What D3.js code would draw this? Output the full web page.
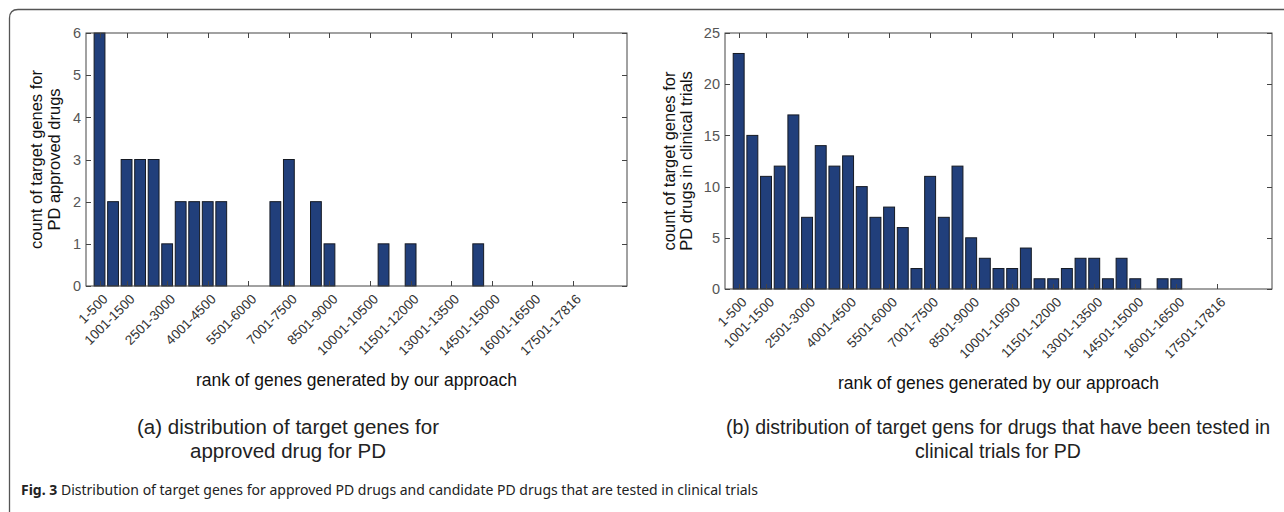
<!DOCTYPE html>
<html>
<head>
<meta charset="utf-8">
<script src="https://cdn.jsdelivr.net/npm/d3@7"></script>
<style>
  html, body { margin: 0; padding: 0; background: #fff; }
  svg { display: block; }
</style>
</head>
<body>
<svg id="chart" width="1284" height="512"></svg>
<script>
// ---- data ----
const bins = [
  "1-500","501-1000","1001-1500","1501-2000","2001-2500","2501-3000",
  "3001-3500","3501-4000","4001-4500","4501-5000","5001-5500","5501-6000",
  "6001-6500","6501-7000","7001-7500","7501-8000","8001-8500","8501-9000",
  "9001-9500","9501-10000","10001-10500","10501-11000","11001-11500","11501-12000",
  "12001-12500","12501-13000","13001-13500","13501-14000","14001-14500","14501-15000",
  "15001-15500","15501-16000","16001-16500","16501-17000","17001-17500","17501-17816"
];
const approvedCounts = [6,2,3,3,3,1,2,2,2,2,0,0,0,2,3,0,2,1,0,0,0,1,0,1,0,0,0,0,1,0,0,0,0,0,0,0];
const clinicalCounts = [23,15,11,12,17,7,14,12,13,10,7,8,6,2,11,7,12,5,3,2,2,4,1,1,2,3,3,1,3,1,0,1,1,0,0,0];
const tickBins = [1,3,6,9,12,15,18,21,24,27,30,33,36];
const tickLabels = ["1-500","1001-1500","2501-3000","4001-4500","5501-6000","7001-7500",
  "8501-9000","10001-10500","11501-12000","13001-13500","14501-15000","16001-16500","17501-17816"];
const yTicksA = [0,1,2,3,4,5,6];
const yTicksB = [0,5,10,15,20,25];
const xTitle = "rank of genes generated by our approach";
const yTitleA = ["count of target genes for", "PD approved drugs"];
const yTitleB = ["count of target genes for", "PD drugs in clinical trials"];
const captionA = ["(a) distribution of target genes for", "approved drug for PD"];
const captionB = ["(b) distribution of target gens for drugs that have been tested in", "clinical trials for PD"];
const figLabel = "Fig. 3";
const figText = " Distribution of target genes for approved PD drugs and candidate PD drugs that are tested in clinical trials";

const svg = d3.select("#chart");
const FONT = "'Liberation Sans', Arial, Helvetica, sans-serif";

// frame
svg.append("path")
  .attr("d", "M9.5,512 L9.5,18 Q9.5,9.5 18,9.5 L1284,9.5")
  .attr("fill", "none").attr("stroke", "#555").attr("stroke-width", 1.3);

function panel(cfg) {
  const g = svg.append("g");
  const x = d3.scaleLinear().domain([0, 40]).range([cfg.x0, cfg.x1]);
  const y = d3.scaleLinear().domain([0, cfg.ymax]).range([cfg.y1, cfg.y0]);
  const bw = (x(1) - x(0)) * 0.8;

  // bars
  g.selectAll("rect.bar").data(cfg.values.map((v, i) => ({i: i + 1, v})).filter(d => d.v > 0))
    .join("rect").attr("class", "bar")
    .attr("x", d => x(d.i) - bw / 2)
    .attr("width", bw)
    .attr("y", d => y(d.v))
    .attr("height", d => y(0) - y(d.v))
    .attr("fill", "#213f7b")
    .attr("stroke", "#151a24").attr("stroke-width", 1);

  // box
  g.append("rect")
    .attr("x", cfg.x0).attr("y", cfg.y0)
    .attr("width", cfg.x1 - cfg.x0).attr("height", cfg.y1 - cfg.y0)
    .attr("fill", "none").attr("stroke", "#444").attr("stroke-width", 1);

  const tl = 5;
  const tickG = g.append("g").attr("stroke", "#444").attr("stroke-width", 1);
  tickBins.forEach(b => {
    const xx = Math.round(x(b)) + 0.5;
    tickG.append("line").attr("x1", xx).attr("x2", xx).attr("y1", cfg.y1).attr("y2", cfg.y1 - tl);
    tickG.append("line").attr("x1", xx).attr("x2", xx).attr("y1", cfg.y0).attr("y2", cfg.y0 + tl);
  });
  cfg.yticks.forEach(t => {
    const yy = Math.round(y(t)) + 0.5;
    tickG.append("line").attr("x1", cfg.x0).attr("x2", cfg.x0 + tl).attr("y1", yy).attr("y2", yy);
    tickG.append("line").attr("x1", cfg.x1).attr("x2", cfg.x1 - tl).attr("y1", yy).attr("y2", yy);
  });

  // y tick labels
  g.selectAll("text.yt").data(cfg.yticks).join("text").attr("class", "yt")
    .attr("x", cfg.x0 - 5).attr("y", d => y(d)).attr("dy", "0.36em")
    .attr("text-anchor", "end")
    .attr("font-family", FONT).attr("font-size", 14.5).attr("fill", "#555")
    .text(d => d);

  // x tick labels, rotated
  g.selectAll("text.xt").data(tickBins).join("text").attr("class", "xt")
    .attr("transform", (b) => `translate(${x(b) + 9},${cfg.y1 + 14}) rotate(-45)`)
    .attr("text-anchor", "end")
    .attr("font-family", FONT).attr("font-size", 13.5).attr("fill", "#333")
    .text((b, i) => tickLabels[i]);

  // x title
  g.append("text")
    .attr("x", (cfg.x0 + cfg.x1) / 2).attr("y", cfg.xty)
    .attr("text-anchor", "middle")
    .attr("font-family", FONT).attr("font-size", 17.5).attr("fill", "#111")
    .text(xTitle);

  // y title (two lines)
  const yc = (cfg.y0 + cfg.y1) / 2;
  cfg.ytitle.forEach((line, i) => {
    g.append("text")
      .attr("transform", `translate(${cfg.ytx[i]},${yc}) rotate(-90)`)
      .attr("text-anchor", "middle")
      .attr("font-family", FONT).attr("font-size", 16.5).attr("fill", "#111")
      .text(line);
  });

  // caption
  cfg.caption.forEach((line, i) => {
    g.append("text")
      .attr("x", cfg.capX).attr("y", 434 + i * 24)
      .attr("text-anchor", "middle")
      .attr("font-family", FONT).attr("font-size", cfg.capSize).attr("fill", "#222")
      .text(line);
  });
}

panel({x0: 86, x1: 627, y0: 33, y1: 286, ymax: 6, values: approvedCounts,
  yticks: yTicksA, ytitle: yTitleA, ytx: [42, 60], caption: captionA, capX: 288, capSize: 20.5, xty: 386});
panel({x0: 725, x1: 1272, y0: 33, y1: 289, ymax: 25, values: clinicalCounts,
  yticks: yTicksB, ytitle: yTitleB, ytx: [675, 692], caption: captionB, capX: 998, capSize: 19.5, xty: 389});

// figure caption
const fc = svg.append("text").attr("x", 21).attr("y", 495)
  .attr("font-family", "'Noto Sans', 'Open Sans', sans-serif").attr("font-size", 14).attr("fill", "#222");
fc.append("tspan").attr("font-weight", "bold").text(figLabel);
fc.append("tspan").text(figText);
</script>
</body>
</html>
